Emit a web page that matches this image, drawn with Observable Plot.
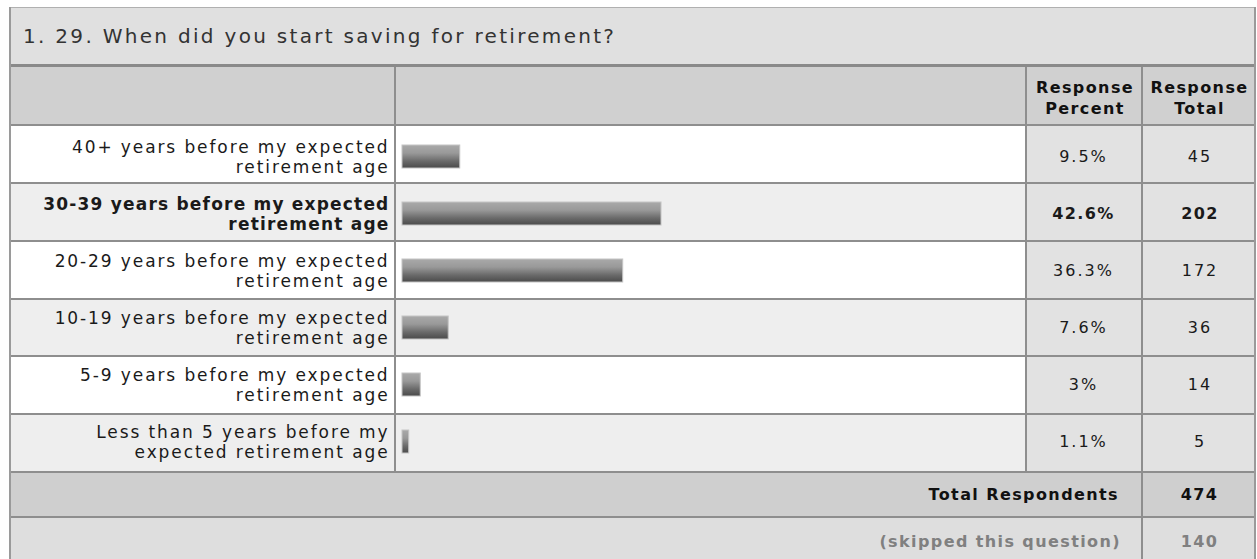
<!DOCTYPE html>
<html><head><meta charset="utf-8">
<script src="https://cdn.jsdelivr.net/npm/d3@7"></script>
<script src="https://cdn.jsdelivr.net/npm/@observablehq/plot@0.6"></script>
<style>
html,body{margin:0;padding:0;background:#fff;width:1257px;height:559px;overflow:hidden;font-family:"DejaVu Sans",Verdana,sans-serif;}
#root{position:relative;width:1257px;height:559px;overflow:hidden;}
.box{position:absolute;box-sizing:border-box;}
.txt{position:absolute;white-space:pre;color:#222;}
</style></head><body><div id="root"></div>
<script>
// ---- data ----
const question = "1. 29. When did you start saving for retirement?";
const headerPercent = "Response\nPercent";
const headerTotal = "Response\nTotal";
const categories = [
  "40+ years before my expected\nretirement age",
  "30-39 years before my expected\nretirement age",
  "20-29 years before my expected\nretirement age",
  "10-19 years before my expected\nretirement age",
  "5-9 years before my expected\nretirement age",
  "Less than 5 years before my\nexpected retirement age"
];
const percents = [9.5, 42.6, 36.3, 7.6, 3, 1.1];
const percentLabels = ["9.5%", "42.6%", "36.3%", "7.6%", "3%", "1.1%"];
const totals = [45, 202, 172, 36, 14, 5];
const totalLabel = "Total Respondents";
const totalRespondents = 474;
const skippedLabel = "(skipped this question)";
const skippedCount = 140;

// ---- layout ----
const root = document.getElementById("root");
const L = 10, R = 1255, colA = 395, colB = 1026, colC = 1142;
const titleTop = 8, headTop = 67, rowsTop = 125, rowsBot = 472, totBot = 517, skipBot = 562;
const rowH = (rowsBot - rowsTop) / categories.length;
const gridC = "#8e8e8e";

function box(x, y, w, h, css) {
  const d = document.createElement("div");
  d.className = "box";
  Object.assign(d.style, {left: x + "px", top: y + "px", width: w + "px", height: h + "px"}, css);
  root.appendChild(d);
  return d;
}
function txt(s, css) {
  const d = document.createElement("div");
  d.className = "txt";
  d.textContent = s;
  Object.assign(d.style, css);
  root.appendChild(d);
  return d;
}

// backgrounds
box(L, titleTop, R - L, headTop - titleTop, {background: "#e0e0e0"});
box(L, headTop, R - L, rowsTop - headTop, {background: "#d0d0d0"});
categories.forEach((c, i) => {
  box(L, rowsTop + i * rowH, colB - L, rowH, {background: i % 2 ? "#eeeeee" : "#ffffff"});
});
box(colB, rowsTop, R - colB, rowsBot - rowsTop, {background: "#e2e2e2"});
box(L, rowsBot, R - L, totBot - rowsBot, {background: "#cfcfcf"});
box(L, totBot, R - L, skipBot - totBot, {background: "#dedede"});

// grid lines
box(L, titleTop - 1, R - L, 1, {background: "#b0b0b0"});
box(L, headTop - 3, R - L, 3, {background: "#8a8a8a"});
box(L, rowsTop - 1, R - L, 2, {background: gridC});
for (let i = 1; i < categories.length; i++) box(L, rowsTop + i * rowH - 1, R - L, 2, {background: gridC});
box(L, rowsBot - 1, R - L, 2, {background: gridC});
box(L, totBot - 1, R - L, 2, {background: gridC});
[colA, colB].forEach(x => box(x - 1, headTop, 2, rowsBot - headTop, {background: gridC}));
box(colC - 1, headTop, 2, skipBot - headTop, {background: gridC});
box(L - 1, titleTop - 1, 2, skipBot, {background: "#9a9a9a"});
box(R - 1, titleTop - 1, 2, skipBot, {background: "#9a9a9a"});

// title / header / footer text
txt(question, {left: "23px", top: titleTop + "px", height: (headTop - titleTop - 3) + "px", lineHeight: (headTop - titleTop - 3) + "px", fontSize: "20px", letterSpacing: "2.3px", color: "#333"});
const headCss = {top: "77px", textAlign: "center", fontSize: "16px", fontWeight: "bold", lineHeight: "21px", letterSpacing: "1.4px", color: "#111", transform: "translateX(-50%)"};
txt(headerPercent, {...headCss, left: ((colB + colC) / 2 + 1) + "px"});
txt(headerTotal, {...headCss, left: ((colC + R) / 2 + 1) + "px"});
const footCss = {fontSize: "16px", fontWeight: "bold", letterSpacing: "1.4px", lineHeight: "24px"};
txt(totalLabel, {...footCss, right: (1257 - 1119) + "px", top: ((rowsBot + totBot) / 2 - 12) + "px", color: "#111"});
txt(String(totalRespondents), {...footCss, left: ((colC + R) / 2 + 1) + "px", top: ((rowsBot + totBot) / 2 - 12) + "px", transform: "translateX(-50%)", color: "#111"});
txt(skippedLabel, {...footCss, right: (1257 - 1121) + "px", top: (542 - 12) + "px", color: "#808080"});
txt(String(skippedCount), {...footCss, left: ((colC + R) / 2 + 1) + "px", top: (542 - 12) + "px", transform: "translateX(-50%)", color: "#808080"});

// ---- Plot: bars and row text ----
const rows = categories.map((c, i) => ({label: c, pct: percents[i], pctLabel: percentLabels[i], total: totals[i]}));
const maxPct = d3.max(percents);
const normal = rows.filter(d => d.pct !== maxPct);
const bold = rows.filter(d => d.pct === maxPct);

const defsMark = () => {
  const defs = d3.create("svg:defs");
  const g = defs.append("linearGradient").attr("id", "bargrad").attr("x1", 0).attr("y1", 0).attr("x2", 0).attr("y2", 1);
  [[0, "#a9a9a9"], [0.35, "#999999"], [0.7, "#6a6a6a"], [1, "#4a4a4a"]].forEach(([o, c]) =>
    g.append("stop").attr("offset", o).attr("stop-color", c));
  return defs.node();
};

const LABEL_FS = 17, NUM_FS = 16;
const labelText = (data, weight) => Plot.text(data, {y: "label", text: "label", frameAnchor: "left", dx: 389, textAnchor: "end", fontSize: LABEL_FS, lineHeight: 20 / LABEL_FS, fill: "#1a1a1a", fontWeight: weight});
const numText = (data, weight, text, cx) => Plot.text(data, {y: "label", text, frameAnchor: "left", dx: cx, textAnchor: "middle", fontSize: NUM_FS, fill: "#1a1a1a", fontWeight: weight});

const chart = Plot.plot({
  width: 1257,
  height: rowsBot - rowsTop,
  margin: 0,
  x: {domain: [0, 100], range: [402, 402 + 608], axis: null},
  y: {domain: categories, range: [0, rowsBot - rowsTop], padding: 0, axis: null},
  style: {background: "transparent", fontFamily: "DejaVu Sans", overflow: "visible"},
  marks: [
    defsMark,
    Plot.barX(rows, {x: "pct", y: "label", insetTop: 17, insetBottom: 17, fill: "url(#bargrad)", stroke: "#c4c4c4", strokeWidth: 1}),
    labelText(normal, "normal"),
    labelText(bold, "bold"),
    numText(normal, "normal", "pctLabel", 1083),
    numText(bold, "bold", "pctLabel", 1083),
    numText(normal, "normal", d => String(d.total), (colC + R) / 2 + 1),
    numText(bold, "bold", d => String(d.total), (colC + R) / 2 + 1)
  ]
});
chart.querySelectorAll(`g[font-size="${LABEL_FS}"]`).forEach(g =>
  g.setAttribute("letter-spacing", g.getAttribute("font-weight") === "bold" ? "1.2px" : "1.9px"));
chart.querySelectorAll(`g[font-size="${NUM_FS}"]`).forEach(g =>
  g.setAttribute("letter-spacing", g.getAttribute("font-weight") === "bold" ? "1.4px" : "2px"));
chart.style.position = "absolute";
chart.style.left = "0px";
chart.style.top = rowsTop + "px";
root.appendChild(chart);
</script>
</body></html>
